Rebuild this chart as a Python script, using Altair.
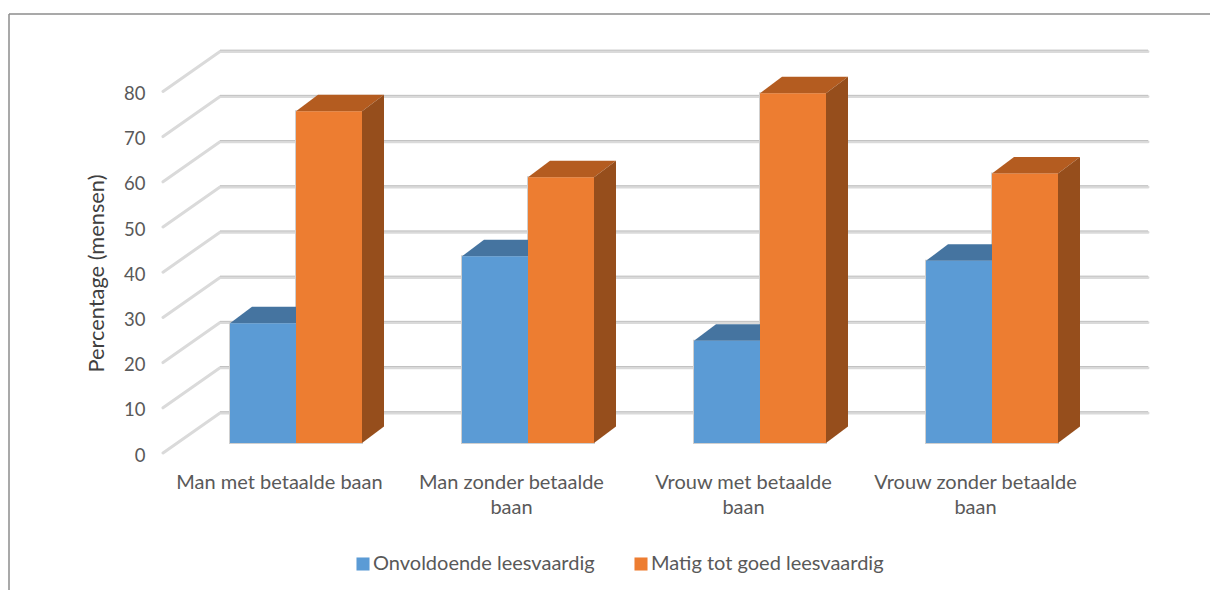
import altair as alt
import pandas as pd

categories = ["Man met betaalde baan", "Man zonder betaalde baan",
              "Vrouw met betaalde baan", "Vrouw zonder betaalde baan"]
onvoldoende = [26.5, 41.3, 22.6, 40.3]
matig = [73.4, 58.8, 77.4, 59.6]
series_names = ["Onvoldoende leesvaardig", "Matig tot goed leesvaardig"]
ticks = [0, 10, 20, 30, 40, 50, 60, 70, 80]

FRONT = ["#5B9BD5", "#ED7D31"]
TOP = ["#4574A0", "#B45C20"]
SIDE = ["#41719C", "#964E1C"]
TEXT = "#595959"
FONT = "Lato"
FS = 20

# geometry: one category is 232 px, one percentage point is 4.52 px
CAT, UNIT = 232.0, 4.52
PW, PH = 985, 402
WALL_X, WALL_Y = 57 / CAT, 40 / UNIT
BAR_X0, BAR_W = 67 / CAT, 66 / CAT
BAR_BASE = 10 / UNIT
BAR_DX, BAR_DY = 22 / CAT, 16.5 / UNIT

fronts, tops, sides = [], [], []
for i in range(len(categories)):
    for s, vals in enumerate([onvoldoende, matig]):
        v = vals[i]
        x0 = i + BAR_X0 + s * BAR_W
        x1 = x0 + BAR_W
        bar = f"{i}-{s}"
        yb = BAR_BASE
        yt = BAR_BASE + v
        fronts.append(dict(x=x0, x1=x1, y=yb, y1=yt, reeks=series_names[s]))
        for x, a, b in [(x0, yt, yt), (x0 + BAR_DX, yt + BAR_DY, yt),
                        (x1, yt + BAR_DY, yt), (x1 + BAR_DX, yt + BAR_DY, yt + BAR_DY)]:
            tops.append(dict(bar=bar, x=x, y=a, y2=b, c=TOP[s]))
        for x, a, b in [(x1, yt, yb), (x1 + BAR_DX, yt + BAR_DY, yb + BAR_DY)]:
            sides.append(dict(bar=bar, x=x, y=a, y2=b, c=SIDE[s]))

n = len(categories)
grid = []
shade = []
for t in ticks:
    grid += [dict(t=t, o=0, x=0, y=t),
             dict(t=t, o=1, x=WALL_X, y=t + WALL_Y),
             dict(t=t, o=2, x=n + WALL_X, y=t + WALL_Y)]
    shade += [dict(t=t, o=0, x=WALL_X, y=t + WALL_Y + 0.28),
              dict(t=t, o=1, x=n + WALL_X, y=t + WALL_Y + 0.28)]

xs = alt.Scale(domain=[0, PW / CAT], nice=False, zero=False)
ys = alt.Scale(domain=[0, PH / UNIT], nice=False, zero=False)

label_lists = "[['Man met betaalde baan'],['Man zonder betaalde','baan'],['Vrouw met betaalde','baan'],['Vrouw zonder betaalde','baan']]"
x_axis = alt.Axis(values=[0.5, 1.5, 2.5, 3.5], title=None, grid=False, domain=False, ticks=False,
                  labelExpr=f"{label_lists}[floor(datum.value)]",
                  labelFont=FONT, labelFontSize=FS, labelColor=TEXT, labelPadding=19,
                  labelLineHeight=25, labelAngle=0, labelLimit=400, labelOverlap=False)
y_axis = alt.Axis(values=ticks, title="Percentage (mensen)", grid=False, domain=False, ticks=False,
                  labelFont=FONT, labelFontSize=18.5, labelColor=TEXT, labelPadding=18,
                  labelOffset=2, labelOverlap=False,
                  titleFont=FONT, titleFontSize=21.8, titleColor="#404040", titleFontWeight="normal",
                  titleX=-55, titleY=222)
X = alt.X("x:Q", scale=xs, axis=x_axis)
Y = alt.Y("y:Q", scale=ys, axis=y_axis)

frame = pd.DataFrame({"k": [0]})
frame_top = alt.Chart(frame).mark_rule(color="#8C8C8C", strokeWidth=1.5).encode(
    x=alt.value(-154), x2=alt.value(1055), y=alt.value(-37))
frame_left = alt.Chart(frame).mark_rule(color="#8C8C8C", strokeWidth=1.5).encode(
    x=alt.value(-154), y=alt.value(-37), y2=alt.value(539))

grid_l = alt.Chart(pd.DataFrame(grid)).mark_line(color="#DADADA", strokeWidth=3, strokeCap="round").encode(
    x=X, y=Y, detail="t:N", order="o:Q")
shade_l = alt.Chart(pd.DataFrame(shade)).mark_line(color="#C2C2C2", strokeWidth=1).encode(
    x=X, y=Y, detail="t:N", order="o:Q")


def faces(rows):
    return alt.Chart(pd.DataFrame(rows)).mark_area(orient="vertical", opacity=1).encode(
        x=X, y=Y, y2="y2:Q",
        color=alt.Color("c:N", scale=None),
        detail="bar:N")


outline_l = alt.Chart(pd.DataFrame(fronts)).mark_rect(stroke="#CFCFCF", strokeWidth=2, fill="#CFCFCF").encode(
    x=X, x2="x1:Q", y=Y, y2="y1:Q")

front_l = alt.Chart(pd.DataFrame(fronts)).mark_rect().encode(
    x=X, x2="x1:Q", y=Y, y2="y1:Q",
    color=alt.Color("reeks:N",
                    scale=alt.Scale(domain=series_names, range=FRONT),
                    legend=alt.Legend(orient="none", legendX=190, legendY=503, direction="horizontal",
                                      columns=2, title=None, symbolType="square", symbolSize=170,
                                      symbolStrokeWidth=0, labelFont=FONT, labelFontSize=FS,
                                      labelColor=TEXT, columnPadding=36, labelOffset=0,
                                      labelLimit=400)))

chart = alt.layer(frame_top, frame_left, grid_l, shade_l, outline_l, faces(tops), faces(sides), front_l).properties(
    width=PW, height=PH,
    autosize=alt.AutoSizeParams(type="none"),
    padding={"left": 155, "top": 43, "right": 62, "bottom": 137},
    background="white",
).configure_view(stroke=None)

chart.save("out.html", embed_options={"renderer": "svg", "actions": False})
